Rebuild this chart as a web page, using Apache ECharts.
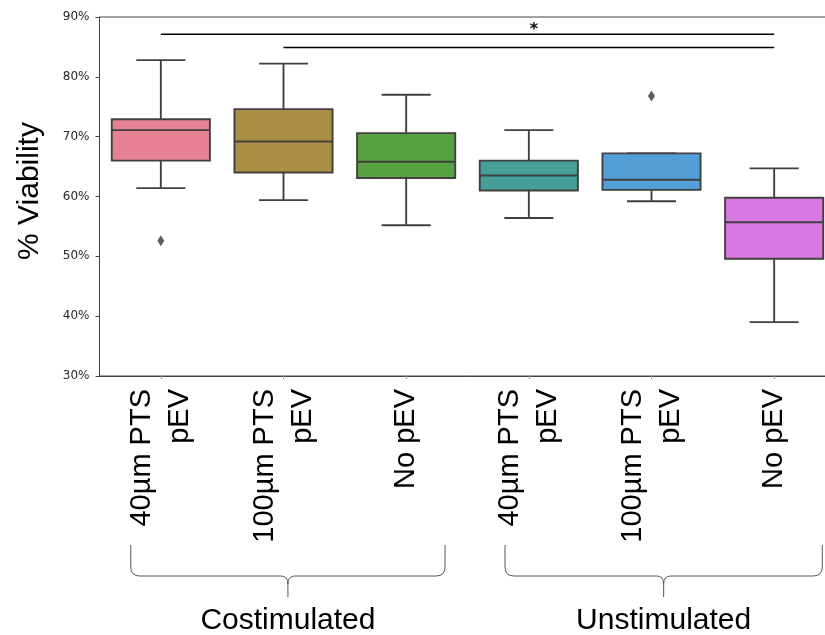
<!DOCTYPE html>
<html><head><meta charset="utf-8">
<script src="https://cdn.jsdelivr.net/npm/echarts@6/dist/echarts.min.js"></script>
<style>html,body{margin:0;padding:0;background:#fff;overflow:hidden}#c{width:845px;height:635px}</style>
</head><body><div id="c"></div>
<script>
// ---- data ----
const categories = ['40µm PTS\npEV', '100µm PTS\npEV', 'No pEV', '40µm PTS\npEV', '100µm PTS\npEV', 'No pEV'];
const groups = ['Costimulated', 'Unstimulated'];
const whiskerLow  = [61.4, 59.4, 55.2, 56.4, 59.2, 39.0];
const q1          = [66.0, 64.0, 63.1, 61.0, 61.1, 49.6];
const medians     = [71.1, 69.2, 65.8, 63.5, 62.8, 55.7];
const q3          = [72.9, 74.6, 70.6, 66.0, 67.2, 59.8];
const whiskerHigh = [82.8, 82.2, 77.0, 71.1, 67.2, 64.7];
const outliers = [[0, 52.6], [4, 76.8]];
const colors = ['#e68193', '#aa8f43', '#58a141', '#459e97', '#519fd6', '#d978e2'];
const yMin = 30, yMax = 90, yStep = 10;
const sigBars = [[0, 5, 87.1], [1, 5, 84.9]];
const sigText = '*';
const groupSpans = [[-0.245, 2.317], [2.806, 5.392]]; // in category units

const edge = '#404040';
const boxData = categories.map((c, i) => [i, whiskerLow[i], q1[i], medians[i], q3[i], whiskerHigh[i]]);

function renderBox(params, api) {
  const i = api.value(0);
  const lo = api.coord([i, api.value(1)]);
  const b1 = api.coord([i, api.value(2)]);
  const md = api.coord([i, api.value(3)]);
  const b3 = api.coord([i, api.value(4)]);
  const hi = api.coord([i, api.value(5)]);
  const band = api.size([1, 0])[0];
  const bw = band * 0.8, half = bw / 2, cap = bw / 4;
  const x = lo[0];
  const st = { stroke: edge, lineWidth: 1.9, fill: null };
  return { type: 'group', children: [
    { type: 'line', shape: { x1: x, y1: b3[1], x2: x, y2: hi[1] }, style: st },
    { type: 'line', shape: { x1: x, y1: b1[1], x2: x, y2: lo[1] }, style: st },
    { type: 'line', shape: { x1: x - cap, y1: hi[1], x2: x + cap, y2: hi[1] }, style: st },
    { type: 'line', shape: { x1: x - cap, y1: lo[1], x2: x + cap, y2: lo[1] }, style: st },
    { type: 'rect', shape: { x: x - half, y: b3[1], width: bw, height: b1[1] - b3[1] },
      style: { fill: colors[params.dataIndex], stroke: edge, lineWidth: 1.9 } },
    { type: 'line', shape: { x1: x - half, y1: md[1], x2: x + half, y2: md[1] }, style: st }
  ]};
}

const chart = echarts.init(document.getElementById('c'), null, { renderer: 'canvas' });
const series = [
  { type: 'custom', renderItem: renderBox, data: boxData, encode: { x: 0, y: [1, 2, 3, 4, 5] }, z: 2 },
  { type: 'scatter', data: outliers, symbol: 'diamond', symbolSize: [7, 11],
    itemStyle: { color: '#383838' }, z: 3 }
];
sigBars.forEach(b => {
  series.push({ type: 'line', data: [[b[0], b[2]], [b[1], b[2]]], symbol: 'none', silent: true,
    lineStyle: { color: '#000', width: 1.5 }, z: 4 });
});

chart.setOption({
  animation: false,
  grid: { left: 99.5, top: 17, width: 736, height: 359, show: true, borderColor: '#444', borderWidth: 1 },
  xAxis: {
    type: 'category', data: categories, boundaryGap: true,
    axisLine: { show: true, lineStyle: { color: '#444', width: 1 } },
    axisTick: { show: true, alignWithLabel: true, length: 3, lineStyle: { color: '#999' } },
    axisLabel: { interval: 0, rotate: 90, margin: 13, fontSize: 29, lineHeight: 38,
      fontFamily: 'Liberation Sans', color: '#000' },
    splitLine: { show: false }
  },
  yAxis: {
    type: 'value', min: yMin, max: yMax, interval: yStep,
    name: '% Viability', nameLocation: 'middle', nameGap: 55, nameRotate: 90,
    nameTextStyle: { fontSize: 30, fontFamily: 'Liberation Sans', color: '#000', padding: [0, 0, 0, 11] },
    axisLine: { show: true, lineStyle: { color: '#444', width: 1 } },
    axisTick: { show: true, length: 4, lineStyle: { color: '#444' } },
    axisLabel: { formatter: '{value}%', fontSize: 12, fontFamily: 'DejaVu Sans', color: '#262626', margin: 10 },
    splitLine: { show: false }
  },
  series: series
});

// annotations: significance star, group braces and labels
const p0 = chart.convertToPixel({ xAxisIndex: 0 }, 0);
const p1 = chart.convertToPixel({ xAxisIndex: 0 }, 1);
const band = p1 - p0;
const yTop = chart.convertToPixel({ yAxisIndex: 0 }, sigBars[0][2]);
const starX = (chart.convertToPixel({ xAxisIndex: 0 }, sigBars[1][0]) + chart.convertToPixel({ xAxisIndex: 0 }, sigBars[1][1])) / 2 + 5;
const graphics = [{
  type: 'text', x: starX, y: yTop + 3, z: 10,
  style: { text: sigText, fontSize: 16, fontWeight: 'bold', fontFamily: 'DejaVu Sans', fill: '#000', align: 'center', verticalAlign: 'bottom' }
}];
const bTop = 545, bH = 576, bTip = 597, r = 9;
const bst = { stroke: '#555', lineWidth: 1, fill: null };
groupSpans.forEach((s, gi) => {
  const xl = p0 + s[0] * band, xr = p0 + s[1] * band, xm = (xl + xr) / 2;
  const parts = [
    { type: 'line', shape: { x1: xl, y1: bTop, x2: xl, y2: bH - r } },
    { type: 'bezierCurve', shape: { x1: xl, y1: bH - r, cpx1: xl, cpy1: bH, x2: xl + r, y2: bH } },
    { type: 'line', shape: { x1: xl + r, y1: bH, x2: xm - 7, y2: bH } },
    { type: 'bezierCurve', shape: { x1: xm - 7, y1: bH, cpx1: xm, cpy1: bH, x2: xm, y2: bH + 8 } },
    { type: 'line', shape: { x1: xm, y1: bH + 8, x2: xm, y2: bTip } },
    { type: 'bezierCurve', shape: { x1: xm + 7, y1: bH, cpx1: xm, cpy1: bH, x2: xm, y2: bH + 8 } },
    { type: 'line', shape: { x1: xm + 7, y1: bH, x2: xr - r, y2: bH } },
    { type: 'bezierCurve', shape: { x1: xr - r, y1: bH, cpx1: xr, cpy1: bH, x2: xr, y2: bH - r } },
    { type: 'line', shape: { x1: xr, y1: bH - r, x2: xr, y2: bTop } }
  ];
  parts.forEach(p => { p.style = bst; p.z = 10; graphics.push(p); });
  graphics.push({ type: 'text', x: xm, y: 621, z: 10,
    style: { text: groups[gi], fontSize: 30, fontFamily: 'Liberation Sans', fill: '#000', align: 'center', verticalAlign: 'middle' } });
});
chart.setOption({ graphic: graphics });
</script>
</body></html>
